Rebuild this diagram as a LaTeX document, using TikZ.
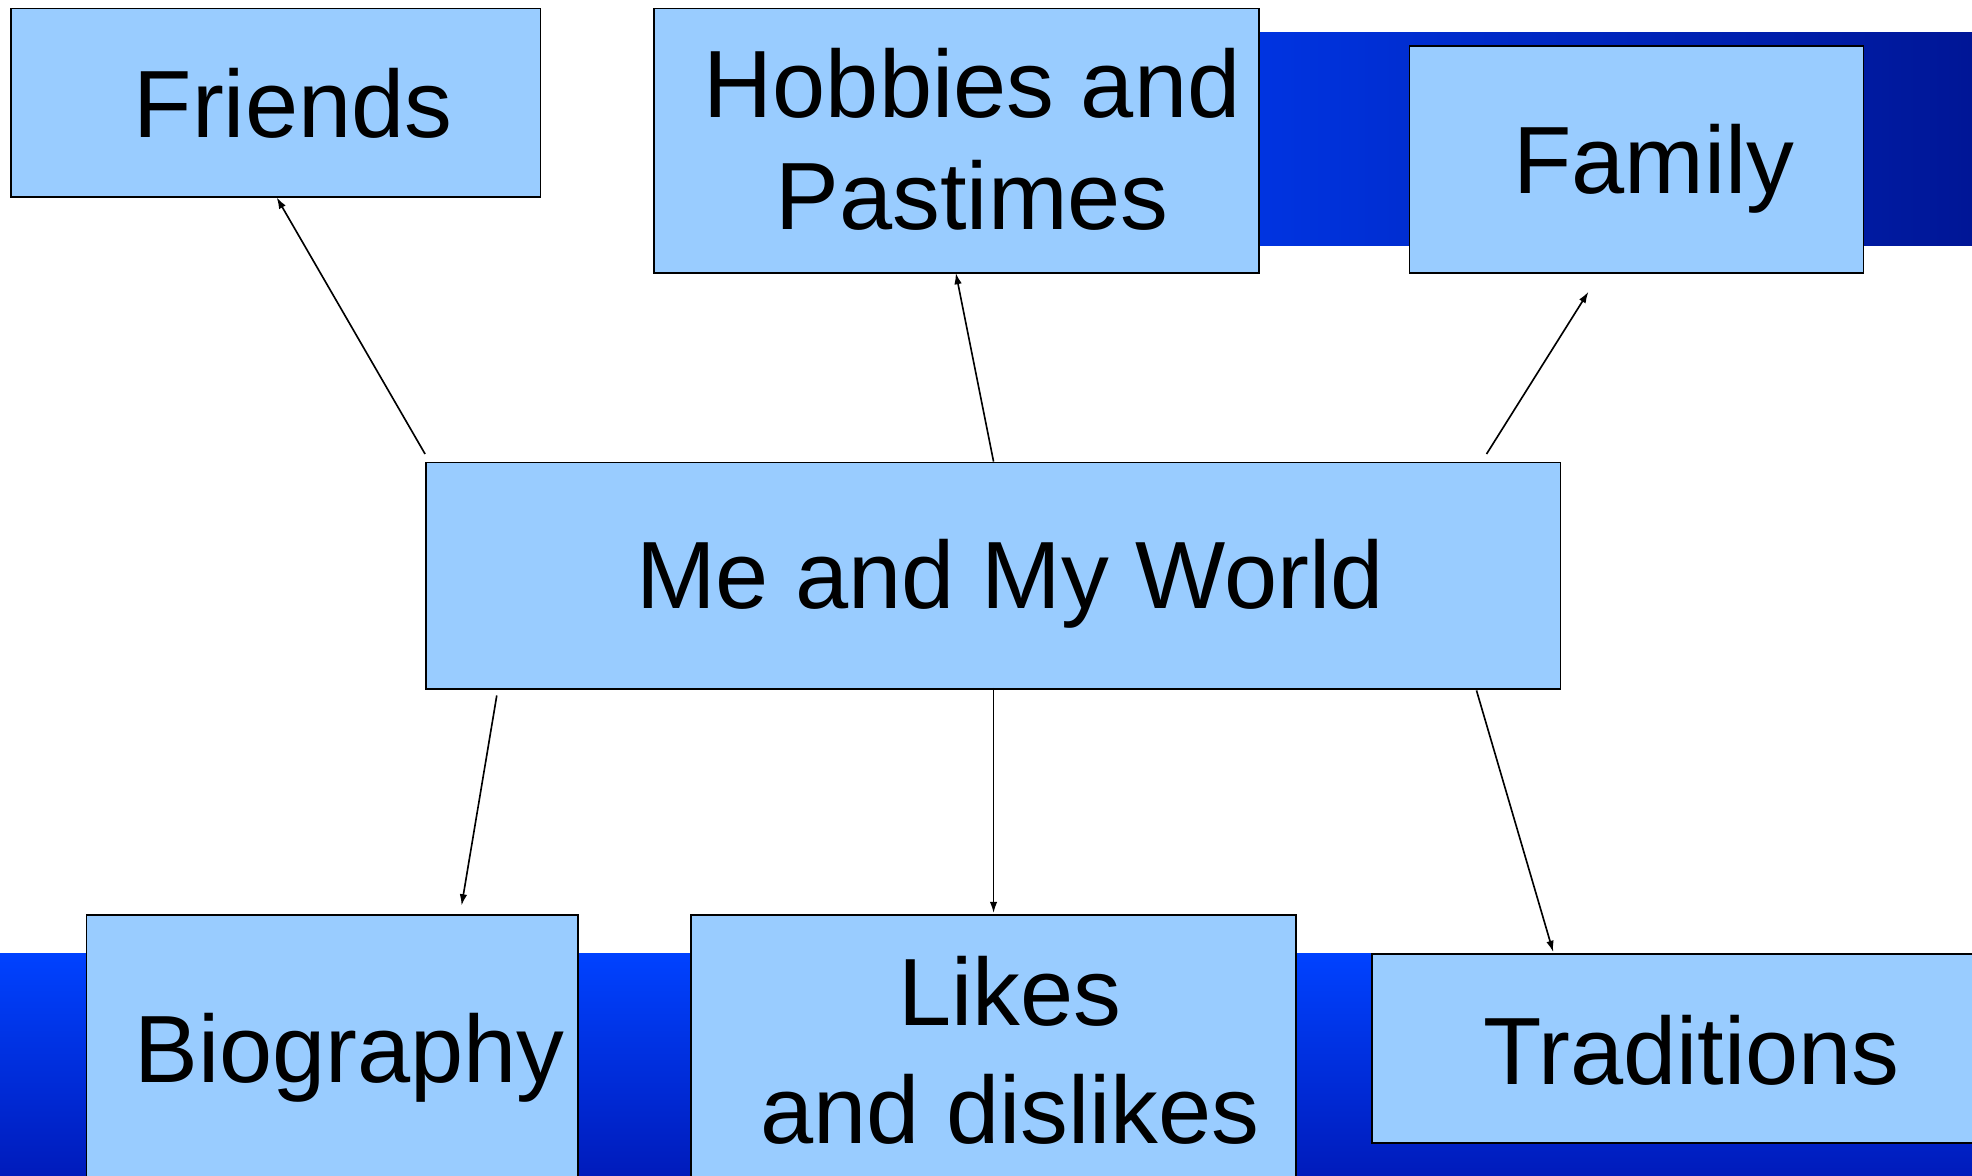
\documentclass[tikz,border=0pt]{standalone}
\usepackage{fontspec}
\setmainfont{Liberation Sans}
\usetikzlibrary{arrows.meta}
\definecolor{boxfill}{RGB}{153,204,255}
\definecolor{bandbright}{RGB}{0,66,255}
\definecolor{bandmid}{RGB}{0,52,225}
\definecolor{banddark}{RGB}{0,22,150}
\definecolor{bandbot}{RGB}{0,26,185}
\tikzset{
  box/.style={draw=black, line width=1.5pt, fill=boxfill, rectangle, inner sep=0pt, anchor=north west},
  lbl/.style={font=\fontsize{76}{89}\selectfont, align=center, inner sep=0pt, text=black},
  conn/.style={draw=black, line width=1.3pt, -{Latex[length=9pt,width=6pt]}}
}
\begin{document}
\begin{tikzpicture}[x=1pt,y=-1pt]
\useasboundingbox (0,0) rectangle (1568,935);
\clip (0,0) rectangle (1568,935);
% background bands
\fill[left color=bandmid, middle color=bandbright, right color=banddark] (1000,26) rectangle (1568,195);
\shade[top color=bandbright, bottom color=bandbot] (0,758) rectangle (1568,940);
% boxes
\node[box, minimum width=421pt, minimum height=150pt] (friends) at (8,6) {};
\node[box, minimum width=481pt, minimum height=210pt] (hobbies) at (519,6) {};
\node[box, minimum width=361pt, minimum height=180pt] (family) at (1120,36) {};
\node[box, minimum width=902pt, minimum height=180pt] (world) at (338,367) {};
\node[box, minimum width=391pt, minimum height=230pt] (bio) at (68,727) {};
\node[box, minimum width=481pt, minimum height=230pt] (likes) at (549,727) {};
\node[box, minimum width=490pt, minimum height=150pt] (trad) at (1090,758) {};
% labels
\node[lbl] (friendsT) at (233,82) {Friends};
\node[lbl] (hobbiesT) at (773,111) {Hobbies and\\Pastimes};
\node[lbl] (familyT) at (1315,134) {Family};
\node[lbl] (worldT) at (803,464) {Me and My World};
\node[lbl] (bioT) at (278,841) {Biography};
\node[lbl, font=\fontsize{76}{94}\selectfont] (likesT) at (803,835) {Likes\\and dislikes};
\node[lbl] (tradT) at (1345,835) {Traditions};
% connector end points
\coordinate (a1) at (338,361);
\coordinate (b1) at (220,157);
\coordinate (a2) at (790,367);
\coordinate (b2) at (760,217);
\coordinate (a3) at (1182,361);
\coordinate (b3) at (1263,232);
\coordinate (a4) at (395,553);
\coordinate (b4) at (367,720);
\coordinate (a5) at (790,547);
\coordinate (b5) at (790,726);
\coordinate (a6) at (1174,549);
\coordinate (b6) at (1235,757);
% connectors
\draw[conn] (a1) -- (b1);
\draw[conn] (a2) -- (b2);
\draw[conn] (a3) -- (b3);
\draw[conn] (a4) -- (b4);
\draw[conn] (a5) -- (b5);
\draw[conn] (a6) -- (b6);
\end{tikzpicture}
\end{document}
